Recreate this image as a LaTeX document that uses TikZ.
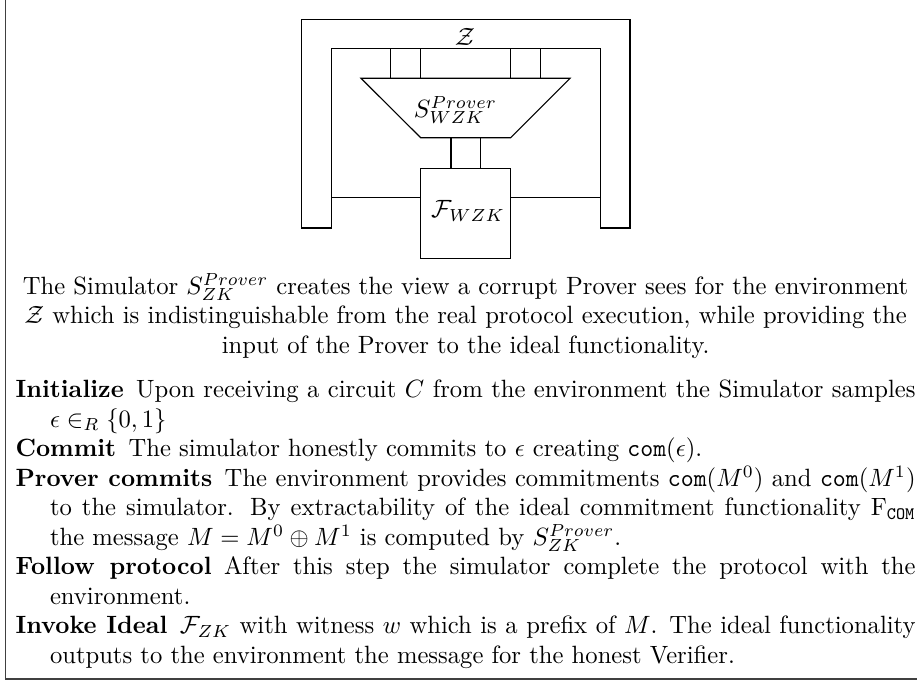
\documentclass[tikz,border=0pt]{standalone}
\usepackage{amsmath,amssymb}
\begin{document}
\begin{tikzpicture}[x=0.4pt,y=-0.4pt, line width=0.45pt,
  frame/.style={draw, line width=0.7pt, black!75},
  wire/.style={draw, line width=0.45pt},
  lab/.style={inner sep=0pt},
  fbox/.style={draw, line width=0.45pt, minimum width=36pt, minimum height=36pt, inner sep=0pt},
  textblock/.style={inner sep=0pt, text width=365.5pt, align=justify, anchor=north west, font=\fontsize{10}{11.8}\selectfont}]
\useasboundingbox (0,0) rectangle (917,681);
% outer frame
\draw[frame] (5.5,-0.6) rectangle (940,679);
% environment Z shape
\draw[wire] (301.7,228) -- (301.7,19.3) -- (630,19.3) -- (630,228) -- (600.7,228)
  -- (600.7,48.3) -- (331.7,48.3) -- (331.7,228) -- cycle;
\node[lab] (Z) at (465,36.7) {$\mathcal{Z}$};
% simulator trapezoid
\coordinate (tl) at (361,78.3);
\coordinate (tr) at (570,78.3);
\coordinate (br) at (510.7,137.7);
\coordinate (bl) at (420.7,137.7);
\draw[wire] (tl) -- (tr) -- (br) -- (bl) -- cycle;
\node[lab] (S) at (455.5,110) {$S_{WZK}^{Prover}$};
% ideal functionality
\node[fbox] (F) at (465.7,213.3) {};
\node[lab] (FL) at (468,211) {$\mathcal{F}_{WZK}$};
% connectors Z -> S
\coordinate (z1) at (390.7,48.3); \coordinate (s1) at (390.7,78.3);
\coordinate (z2) at (420.7,48.3); \coordinate (s2) at (420.7,78.3);
\coordinate (z3) at (510.7,48.3); \coordinate (s3) at (510.7,78.3);
\coordinate (z4) at (540.7,48.3); \coordinate (s4) at (540.7,78.3);
\draw[wire] (z1) -- (s1) (z2) -- (s2) (z3) -- (s3) (z4) -- (s4);
% connectors S -> F
\coordinate (s5) at (451,137.7); \coordinate (s6) at (480.7,137.7);
\draw[wire] (s5) -- (s5 |- F.north) (s6) -- (s6 |- F.north);
% connectors Z -> F
\coordinate (zl) at (331.7,197.7); \coordinate (zr) at (600.7,197.7);
\draw[wire] (zl) -- (zl -| F.west) (zr) -- (zr -| F.east);
% text
\begin{scope}[shift={(15,272.5)}, xscale=0.985]
\node[textblock, transform shape] (txt) at (0,0) {%
{\centering The Simulator $S_{ZK}^{Prover}$ creates the view a corrupt Prover sees for the environment\\
$\mathcal{Z}$ which is indistinguishable from the real protocol execution, while providing the\\
input of the Prover to the ideal functionality.\par}
\vspace{6pt}
\hangindent=14pt\hangafter=1\noindent\textbf{Initialize}\enspace Upon receiving a circuit $C$ from the environment the Simulator samples\linebreak
$\epsilon\in_R\{0,1\}$\par
\hangindent=14pt\hangafter=1\noindent\textbf{Commit}\enspace The simulator honestly commits to $\epsilon$ creating $\texttt{com}(\epsilon)$.\par
\hangindent=14pt\hangafter=1\noindent\textbf{Prover commits}\enspace The environment provides commitments $\texttt{com}(M^0)$ and $\texttt{com}(M^1)$\linebreak
to the simulator. By extractability of the ideal commitment functionality $\mathrm{F}_{\texttt{COM}}$\linebreak
the message $M=M^0\oplus M^1$ is computed by $S_{ZK}^{Prover}$.\par
\hangindent=14pt\hangafter=1\noindent\textbf{Follow protocol}\enspace After this step the simulator complete the protocol with the\linebreak
environment.\par
\hangindent=14pt\hangafter=1\noindent\textbf{Invoke Ideal}\enspace $\mathcal{F}_{ZK}$ with witness $w$ which is a prefix of $M$. The ideal functionality\linebreak
outputs to the environment the message for the honest Verifier.\par
};
\end{scope}
\end{tikzpicture}
\end{document}
